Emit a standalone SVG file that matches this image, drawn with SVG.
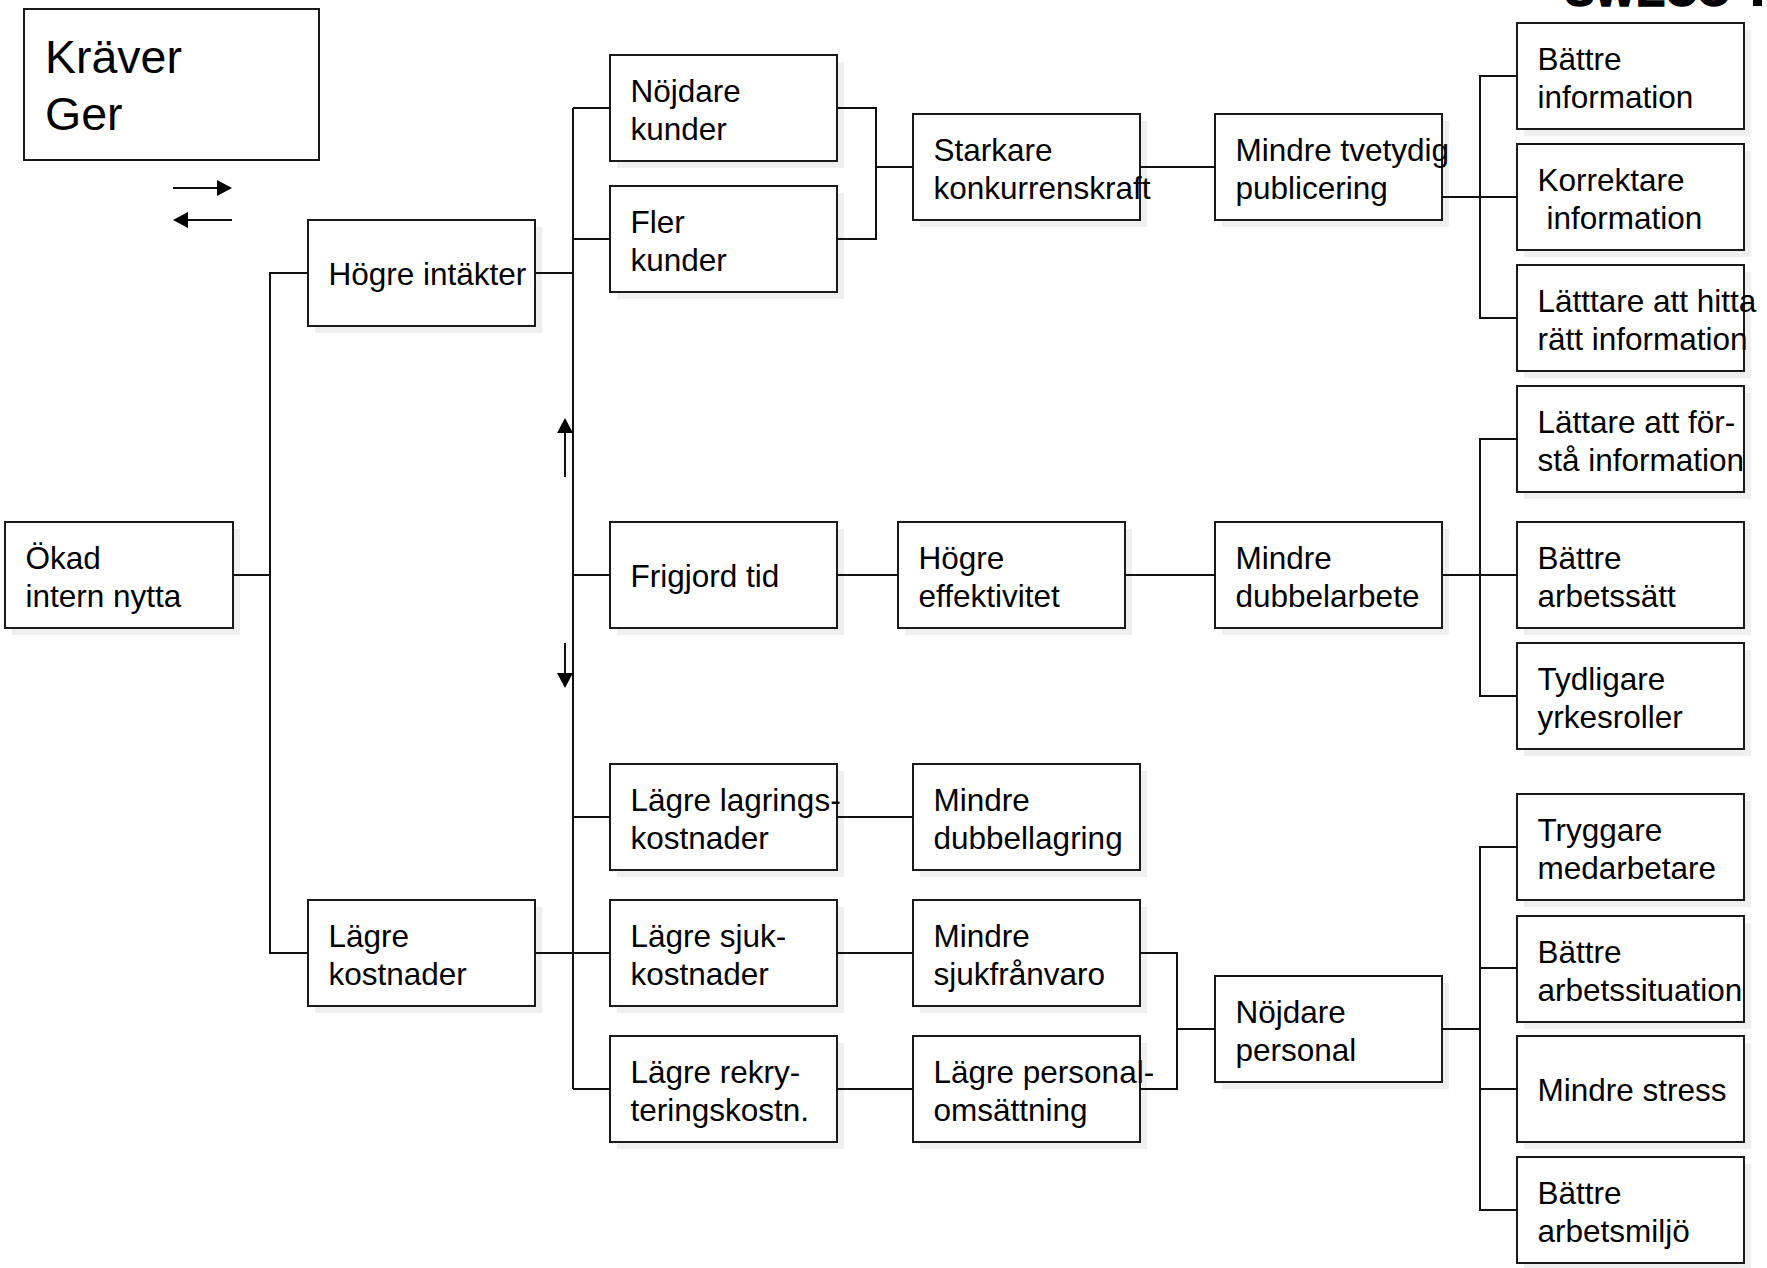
<svg xmlns="http://www.w3.org/2000/svg" width="1767" height="1268" viewBox="0 0 1767 1268">
<defs>
<style>
.bx{fill:#fff;stroke:#1a1a1a;stroke-width:2}
.sh{fill:#efefef}
.t{font-family:"Liberation Sans",Arial,sans-serif;font-size:31.5px;fill:#000}
.big{font-family:"Liberation Sans",Arial,sans-serif;font-size:46.5px;fill:#000}
.logo{font-family:"Liberation Sans",Arial,sans-serif;font-size:44px;font-weight:bold;fill:#000;stroke:#000;stroke-width:1.5}
.c{fill:none;stroke:#111;stroke-width:2}
</style>
<marker id="ah" viewBox="0 0 15 16" refX="0" refY="8" markerWidth="15" markerHeight="16" markerUnits="userSpaceOnUse" orient="auto">
<path d="M0,0 L15,8 L0,16 Z" fill="#000"/>
</marker>
</defs>
<rect width="1767" height="1268" fill="#fff"/>
<text class="logo" x="1565" y="6">SWECO</text>
<rect x="1753" y="0" width="9" height="6" fill="#000"/>

<g id="legend">
<rect x="24" y="9" width="295" height="151" class="bx"/>
<text class="big" x="45" y="73">Kräver</text>
<text class="big" x="45" y="130">Ger</text>
<line x1="173" y1="188" x2="217" y2="188" class="c" marker-end="url(#ah)"/>
<line x1="232" y1="220" x2="188" y2="220" class="c" marker-end="url(#ah)"/>
</g>

<g id="okad"><rect class="sh" x="12" y="529" width="228" height="106"/><rect class="bx" x="5" y="522" width="228" height="106"/><text class="t" x="25.5"><tspan x="25.5" y="568.5">Ökad</tspan><tspan x="25.5" y="607">intern nytta</tspan></text></g>

<g id="hogre-intakter"><rect class="sh" x="315" y="227" width="227" height="106"/><rect class="bx" x="308" y="220" width="227" height="106"/><text class="t" x="328.5" y="285">Högre intäkter</text></g>
<g id="lagre-kostnader"><rect class="sh" x="315" y="907" width="227" height="106"/><rect class="bx" x="308" y="900" width="227" height="106"/><text class="t"><tspan x="328.5" y="946.5">Lägre</tspan><tspan x="328.5" y="985">kostnader</tspan></text></g>

<g id="nojdare-kunder"><rect class="sh" x="617" y="62" width="227" height="106"/><rect class="bx" x="610" y="55" width="227" height="106"/><text class="t"><tspan x="630.5" y="101.5">Nöjdare</tspan><tspan x="630.5" y="140">kunder</tspan></text></g>
<g id="fler-kunder"><rect class="sh" x="617" y="193" width="227" height="106"/><rect class="bx" x="610" y="186" width="227" height="106"/><text class="t"><tspan x="630.5" y="232.5">Fler</tspan><tspan x="630.5" y="271">kunder</tspan></text></g>
<g id="frigjord-tid"><rect class="sh" x="617" y="529" width="227" height="106"/><rect class="bx" x="610" y="522" width="227" height="106"/><text class="t" x="630.5" y="587">Frigjord tid</text></g>
<g id="lagre-lagrings"><rect class="sh" x="617" y="771" width="227" height="106"/><rect class="bx" x="610" y="764" width="227" height="106"/><text class="t"><tspan x="630.5" y="810.5">Lägre lagrings-</tspan><tspan x="630.5" y="849">kostnader</tspan></text></g>
<g id="lagre-sjuk"><rect class="sh" x="617" y="907" width="227" height="106"/><rect class="bx" x="610" y="900" width="227" height="106"/><text class="t"><tspan x="630.5" y="946.5">Lägre sjuk-</tspan><tspan x="630.5" y="985">kostnader</tspan></text></g>
<g id="lagre-rekry"><rect class="sh" x="617" y="1043" width="227" height="106"/><rect class="bx" x="610" y="1036" width="227" height="106"/><text class="t"><tspan x="630.5" y="1082.5">Lägre rekry-</tspan><tspan x="630.5" y="1121">teringskostn.</tspan></text></g>

<g id="starkare"><rect class="sh" x="920" y="121" width="227" height="106"/><rect class="bx" x="913" y="114" width="227" height="106"/><text class="t"><tspan x="933.5" y="160.5">Starkare</tspan><tspan x="933.5" y="199">konkurrenskraft</tspan></text></g>
<g id="hogre-effektivitet"><rect class="sh" x="905" y="529" width="227" height="106"/><rect class="bx" x="898" y="522" width="227" height="106"/><text class="t"><tspan x="918.5" y="568.5">Högre</tspan><tspan x="918.5" y="607">effektivitet</tspan></text></g>
<g id="mindre-dubbellagring"><rect class="sh" x="920" y="771" width="227" height="106"/><rect class="bx" x="913" y="764" width="227" height="106"/><text class="t"><tspan x="933.5" y="810.5">Mindre</tspan><tspan x="933.5" y="849">dubbellagring</tspan></text></g>
<g id="mindre-sjukfranvaro"><rect class="sh" x="920" y="907" width="227" height="106"/><rect class="bx" x="913" y="900" width="227" height="106"/><text class="t"><tspan x="933.5" y="946.5">Mindre</tspan><tspan x="933.5" y="985">sjukfrånvaro</tspan></text></g>
<g id="lagre-personal"><rect class="sh" x="920" y="1043" width="227" height="106"/><rect class="bx" x="913" y="1036" width="227" height="106"/><text class="t"><tspan x="933.5" y="1082.5">Lägre personal-</tspan><tspan x="933.5" y="1121">omsättning</tspan></text></g>

<g id="mindre-tvetydig"><rect class="sh" x="1222" y="121" width="227" height="106"/><rect class="bx" x="1215" y="114" width="227" height="106"/><text class="t"><tspan x="1235.5" y="160.5">Mindre tvetydig</tspan><tspan x="1235.5" y="199">publicering</tspan></text></g>
<g id="mindre-dubbelarbete"><rect class="sh" x="1222" y="529" width="227" height="106"/><rect class="bx" x="1215" y="522" width="227" height="106"/><text class="t"><tspan x="1235.5" y="568.5">Mindre</tspan><tspan x="1235.5" y="607">dubbelarbete</tspan></text></g>
<g id="nojdare-personal"><rect class="sh" x="1222" y="983" width="227" height="106"/><rect class="bx" x="1215" y="976" width="227" height="106"/><text class="t"><tspan x="1235.5" y="1022.5">Nöjdare</tspan><tspan x="1235.5" y="1061">personal</tspan></text></g>

<g id="battre-information"><rect class="sh" x="1524" y="30" width="227" height="106"/><rect class="bx" x="1517" y="23" width="227" height="106"/><text class="t"><tspan x="1537.5" y="69.5">Bättre</tspan><tspan x="1537.5" y="108">information</tspan></text></g>
<g id="korrektare-information"><rect class="sh" x="1524" y="151" width="227" height="106"/><rect class="bx" x="1517" y="144" width="227" height="106"/><text class="t"><tspan x="1537.5" y="190.5">Korrektare</tspan><tspan x="1546.5" y="229">information</tspan></text></g>
<g id="lattare-hitta"><rect class="sh" x="1524" y="272" width="227" height="106"/><rect class="bx" x="1517" y="265" width="227" height="106"/><text class="t"><tspan x="1537.5" y="311.5">Lätttare att hitta</tspan><tspan x="1537.5" y="350">rätt information</tspan></text></g>
<g id="lattare-forsta"><rect class="sh" x="1524" y="393" width="227" height="106"/><rect class="bx" x="1517" y="386" width="227" height="106"/><text class="t"><tspan x="1537.5" y="432.5">Lättare att för-</tspan><tspan x="1537.5" y="471">stå information</tspan></text></g>
<g id="battre-arbetssatt"><rect class="sh" x="1524" y="529" width="227" height="106"/><rect class="bx" x="1517" y="522" width="227" height="106"/><text class="t"><tspan x="1537.5" y="568.5">Bättre</tspan><tspan x="1537.5" y="607">arbetssätt</tspan></text></g>
<g id="tydligare-yrkesroller"><rect class="sh" x="1524" y="650" width="227" height="106"/><rect class="bx" x="1517" y="643" width="227" height="106"/><text class="t"><tspan x="1537.5" y="689.5">Tydligare</tspan><tspan x="1537.5" y="728">yrkesroller</tspan></text></g>
<g id="tryggare-medarbetare"><rect class="sh" x="1524" y="801" width="227" height="106"/><rect class="bx" x="1517" y="794" width="227" height="106"/><text class="t"><tspan x="1537.5" y="840.5">Tryggare</tspan><tspan x="1537.5" y="879">medarbetare</tspan></text></g>
<g id="battre-arbetssituation"><rect class="sh" x="1524" y="923" width="227" height="106"/><rect class="bx" x="1517" y="916" width="227" height="106"/><text class="t"><tspan x="1537.5" y="962.5">Bättre</tspan><tspan x="1537.5" y="1001">arbetssituation</tspan></text></g>
<g id="mindre-stress"><rect class="sh" x="1524" y="1043" width="227" height="106"/><rect class="bx" x="1517" y="1036" width="227" height="106"/><text class="t" x="1537.5" y="1101">Mindre stress</text></g>
<g id="battre-arbetsmiljo"><rect class="sh" x="1524" y="1164" width="227" height="106"/><rect class="bx" x="1517" y="1157" width="227" height="106"/><text class="t"><tspan x="1537.5" y="1203.5">Bättre</tspan><tspan x="1537.5" y="1242">arbetsmiljö</tspan></text></g>

<g id="connectors">
<path class="c" d="M233,575 H270 M308,273 H270 V953 H308"/>
<path class="c" d="M535,273 H573 M535,953 H573 M573,108 V1089 M573,108 H610 M573,239 H610 M573,575 H610 M573,817 H610 M573,953 H610 M573,1089 H610"/>
<path class="c" d="M837,108 H876 V239 H837 M876,167 H913 M1140,167 H1215"/>
<path class="c" d="M1442,197 H1517 M1517,76 H1480 V318 H1517"/>
<path class="c" d="M837,575 H898 M1125,575 H1215 M1442,575 H1517 M1517,439 H1480 V696 H1517"/>
<path class="c" d="M837,817 H913 M837,953 H913 M837,1089 H913"/>
<path class="c" d="M1140,953 H1177 V1089 H1140 M1177,1029 H1215"/>
<path class="c" d="M1442,1029 H1480 M1517,847 H1480 V1210 H1517 M1480,968 H1517 M1480,1089 H1517"/>
<line class="c" x1="565" y1="477" x2="565" y2="433" marker-end="url(#ah)"/>
<line class="c" x1="565" y1="643" x2="565" y2="673" marker-end="url(#ah)"/>
</g>
</svg>
